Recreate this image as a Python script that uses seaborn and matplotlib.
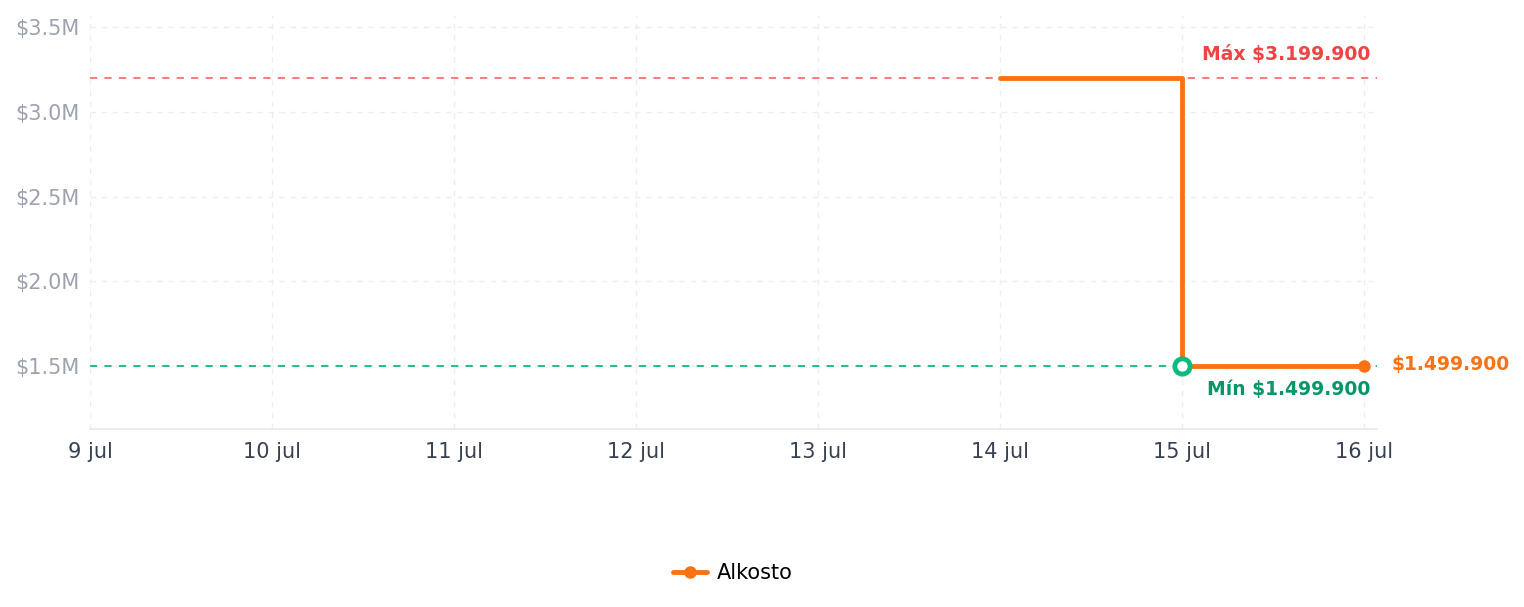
import matplotlib
matplotlib.use("Agg")
import matplotlib.pyplot as plt
import seaborn as sns
import pandas as pd
from matplotlib.lines import Line2D

dates = ["2024-07-14", "2024-07-15", "2024-07-16"]
prices = [3199900, 1499900, 1499900]
store = "Alkosto"
max_price = 3199900
min_price = 1499900
min_date = "2024-07-15"
tick_dates = pd.date_range("2024-07-09", "2024-07-16", freq="D")
tick_labels = [f"{d.day} jul" for d in tick_dates]
y_ticks = [1.5e6, 2.0e6, 2.5e6, 3.0e6, 3.5e6]
y_labels = ["$1.5M", "$2.0M", "$2.5M", "$3.0M", "$3.5M"]

orange = "#f97316"
red_line = "#f87171"
red_text = "#ef4444"
green_line = "#10b981"
green_text = "#059669"

sns.set_theme(style="white")
plt.rcParams['font.family'] = ['DejaVu Sans']

df = pd.DataFrame({"date": pd.to_datetime(dates), "price": prices, "store": store})

fig = plt.figure(figsize=(15.24, 6.07), dpi=100)
ax = fig.add_axes([90/1524, 1-429/607, (1377-90)/1524, (429-15)/607])

sns.lineplot(data=df, x="date", y="price", hue="store", palette=[orange],
             drawstyle="steps-post", linewidth=3.5, ax=ax, legend=False, zorder=3)

ax.plot(df["date"].iloc[-1], df["price"].iloc[-1], "o", color=orange, ms=8, zorder=5)
ax.plot(pd.to_datetime(min_date), min_price, "o", ms=11, mfc="white", mec=green_line, mew=3.5, zorder=6)

ax.axhline(max_price, color=red_line, ls=(0, (4, 4)), lw=1.3, zorder=2)
ax.axhline(min_price, color=green_line, ls=(0, (4, 4)), lw=1.3, zorder=2)

x0 = pd.Timestamp("2024-07-09")
ax.set_xlim(x0, pd.Timestamp("2024-07-16") + pd.Timedelta(hours=24*13/182))
ax.set_ylim(1.5e6 - 63/169.5*1e6, 3.5e6 + 12/169.5*1e6)

ax.set_xticks(tick_dates)
ax.set_xticklabels(tick_labels, color="#374151", fontsize=15)
ax.set_yticks(y_ticks)
ax.set_yticklabels(y_labels, color="#9ca3af", fontsize=15)
ax.tick_params(axis="x", length=0, pad=9)
ax.tick_params(axis="y", length=0, pad=7.5)

ax.grid(True, color="#eeeeee", ls=(0, (4, 4)), lw=1)
for s in ["top", "right", "left"]:
    ax.spines[s].set_visible(False)
ax.spines["bottom"].set_color("#e5e7eb")
ax.spines["bottom"].set_linewidth(1.2)
ax.set_xlabel("")
ax.set_ylabel("")

xr = pd.Timestamp("2024-07-16") + pd.Timedelta(hours=24*6/182)
ax.annotate("Máx $3.199.900", xy=(xr, max_price), xytext=(0, 17), textcoords="offset points",
            ha="right", va="center", color=red_text, fontsize=13.5, fontweight="bold")
ax.annotate("Mín $1.499.900", xy=(xr, min_price), xytext=(0, -17), textcoords="offset points",
            ha="right", va="center", color=green_text, fontsize=13.5, fontweight="bold")
ax.annotate("$1.499.900", xy=(df["date"].iloc[-1], prices[-1]), xytext=(20, 1), textcoords="offset points",
            ha="left", va="center", color=orange, fontsize=13.5, fontweight="bold", annotation_clip=False)

h = [Line2D([0], [0], color=orange, lw=3.5, marker="o", ms=8)]
fig.legend(h, [store], loc="center", bbox_to_anchor=(733/1524, 1-573/607), frameon=False,
           fontsize=15, handlelength=1.6, handletextpad=0.5, labelcolor="black")

fig.savefig("out.png", dpi=100)
